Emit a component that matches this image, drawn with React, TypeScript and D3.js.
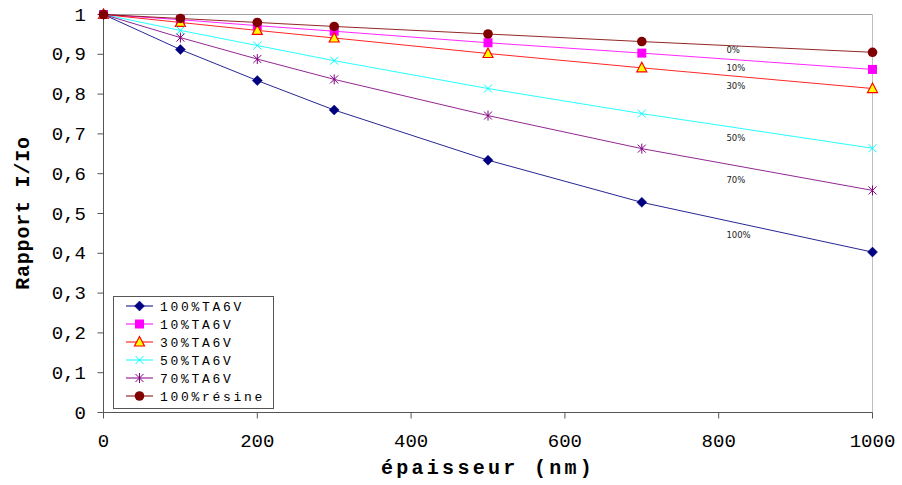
import React from "react";
import * as d3 from "d3";

const thickness = [0, 100, 200, 300, 500, 700, 1000];
const seriesNames = ["100%TA6V", "10%TA6V", "30%TA6V", "50%TA6V", "70%TA6V", "100%résine"];
const s100 = [1, 0.912, 0.834, 0.760, 0.634, 0.528, 0.403];
const s10 = [1, 0.987, 0.972, 0.958, 0.929, 0.903, 0.862];
const s30 = [1, 0.980, 0.960, 0.941, 0.902, 0.866, 0.814];
const s50 = [1, 0.960, 0.922, 0.884, 0.814, 0.751, 0.664];
const s70 = [1, 0.942, 0.888, 0.837, 0.746, 0.663, 0.558];
const sRes = [1, 0.990, 0.980, 0.970, 0.951, 0.932, 0.905];
const seriesValues = [s100, s10, s30, s50, s70, sRes];
const annotations = ["0%", "10%", "30%", "50%", "70%", "100%"];
const annotationY = [0.91, 0.865, 0.82, 0.69, 0.585, 0.445];
const xTicks = [0, 200, 400, 600, 800, 1000];
const yTicks = [0, 0.1, 0.2, 0.3, 0.4, 0.5, 0.6, 0.7, 0.8, 0.9, 1];

const colors = ["#000080", "#FF00FF", "#FF0000", "#00FFFF", "#800080", "#800000"];
const markers = ["diamond", "square", "triangle", "x", "star", "circle"];

const W = 902, H = 485;
const x = d3.scaleLinear().domain([0, 1000]).range([103.5, 872.5]);
const y = d3.scaleLinear().domain([0, 1]).range([412.5, 14.5]);

function Marker({ kind, cx, cy, color }: { kind: string; cx: number; cy: number; color: string }) {
  switch (kind) {
    case "diamond":
      return <path d={`M${cx},${cy - 5}L${cx + 5},${cy}L${cx},${cy + 5}L${cx - 5},${cy}Z`} fill={color} stroke={color} strokeWidth={0.5} />;
    case "square":
      return <rect x={cx - 4.5} y={cy - 4.5} width={9} height={9} fill={color} />;
    case "triangle":
      return <path d={`M${cx},${cy - 5.5}L${cx + 5},${cy + 4}L${cx - 5},${cy + 4}Z`} fill="#FFFF00" stroke="#FF0000" strokeWidth={1.2} />;
    case "x":
      return <path d={`M${cx - 4},${cy - 4}L${cx + 4},${cy + 4}M${cx - 4},${cy + 4}L${cx + 4},${cy - 4}`} stroke={color} strokeWidth={1} fill="none" />;
    case "star":
      return <path d={`M${cx - 4},${cy - 4}L${cx + 4},${cy + 4}M${cx - 4},${cy + 4}L${cx + 4},${cy - 4}M${cx},${cy - 5}L${cx},${cy + 5}`} stroke={color} strokeWidth={1} fill="none" />;
    default:
      return <circle cx={cx} cy={cy} r={4.8} fill={color} />;
  }
}

export default function App() {
  const line = d3.line<number>().x((_, i) => x(thickness[i])).y((d) => y(d));
  const fmt = (v: number) => (v === 0 || v === 1 ? String(v) : d3.format(".1f")(v).replace(".", ","));
  return (
    <svg width={W} height={H} style={{ position: "absolute", left: 0, top: 0, background: "#fff" }}>
      <rect x={0} y={0} width={W} height={H} fill="#fff" />
      {/* plot frame */}
      <line x1={x(0)} x2={x(1000)} y1={y(1)} y2={y(1)} stroke="#a0a0a0" strokeWidth={1} />
      <line x1={x(1000)} x2={x(1000)} y1={y(1)} y2={y(0)} stroke="#c0c0c0" strokeWidth={1} />
      {/* axes */}
      <line x1={x(0)} x2={x(0)} y1={y(1)} y2={y(0)} stroke="#555" strokeWidth={1} />
      <line x1={x(0)} x2={x(1000)} y1={y(0)} y2={y(0)} stroke="#555" strokeWidth={1} />
      {yTicks.map((t) => (
        <g key={"y" + t}>
          <line x1={x(0) - 6} x2={x(0)} y1={y(t)} y2={y(t)} stroke="#555" />
          <text x={86} y={y(t) + 6} textAnchor="end" fontFamily="Liberation Mono" fontSize={19} fill="#000">
            {fmt(t)}
          </text>
        </g>
      ))}
      {xTicks.map((t) => (
        <g key={"x" + t}>
          <line x1={x(t)} x2={x(t)} y1={y(0)} y2={y(0) + 6} stroke="#555" />
          <text x={x(t)} y={447} textAnchor="middle" fontFamily="Liberation Mono" fontSize={19} fill="#000">
            {t}
          </text>
        </g>
      ))}
      <text x={488} y={474} textAnchor="middle" fontFamily="Liberation Mono" fontWeight="bold" fontSize={20} letterSpacing={3.3} fill="#000">
        épaisseur (nm)
      </text>
      <text transform={`translate(29,213) rotate(-90)`} textAnchor="middle" fontFamily="Liberation Mono" fontWeight="bold" fontSize={20} letterSpacing={0.8} fill="#000">
        Rapport I/Io
      </text>
      {/* series lines */}
      {seriesValues.map((vals, si) => (
        <path key={"l" + si} d={line(vals) || ""} fill="none" stroke={colors[si]} strokeWidth={1} opacity={0.85} />
      ))}
      {seriesValues.map((vals, si) => (
        <g key={"m" + si}>
          {vals.map((v, i) => (
            <Marker key={i} kind={markers[si]} cx={x(thickness[i])} cy={y(v)} color={colors[si]} />
          ))}
        </g>
      ))}
      {annotations.map((a, i) => (
        <text key={a} x={x(810)} y={y(annotationY[i]) + 3} fontFamily="DejaVu Sans" fontSize={8.5} fill="#222">
          {a}
        </text>
      ))}
      {/* legend */}
      <rect x={113.5} y={296.5} width={160} height={112} fill="#fff" stroke="#555" strokeWidth={1} />
      {seriesNames.map((n, i) => {
        const ly = 306 + i * 18;
        return (
          <g key={n}>
            <line x1={126} x2={153} y1={ly} y2={ly} stroke={colors[i]} strokeWidth={1} />
            <Marker kind={markers[i]} cx={139.5} cy={ly} color={colors[i]} />
            <text x={160} y={ly + 4.5} fontFamily="Liberation Mono" fontSize={13} letterSpacing={2.7} fill="#000">
              {n}
            </text>
          </g>
        );
      })}
    </svg>
  );
}
